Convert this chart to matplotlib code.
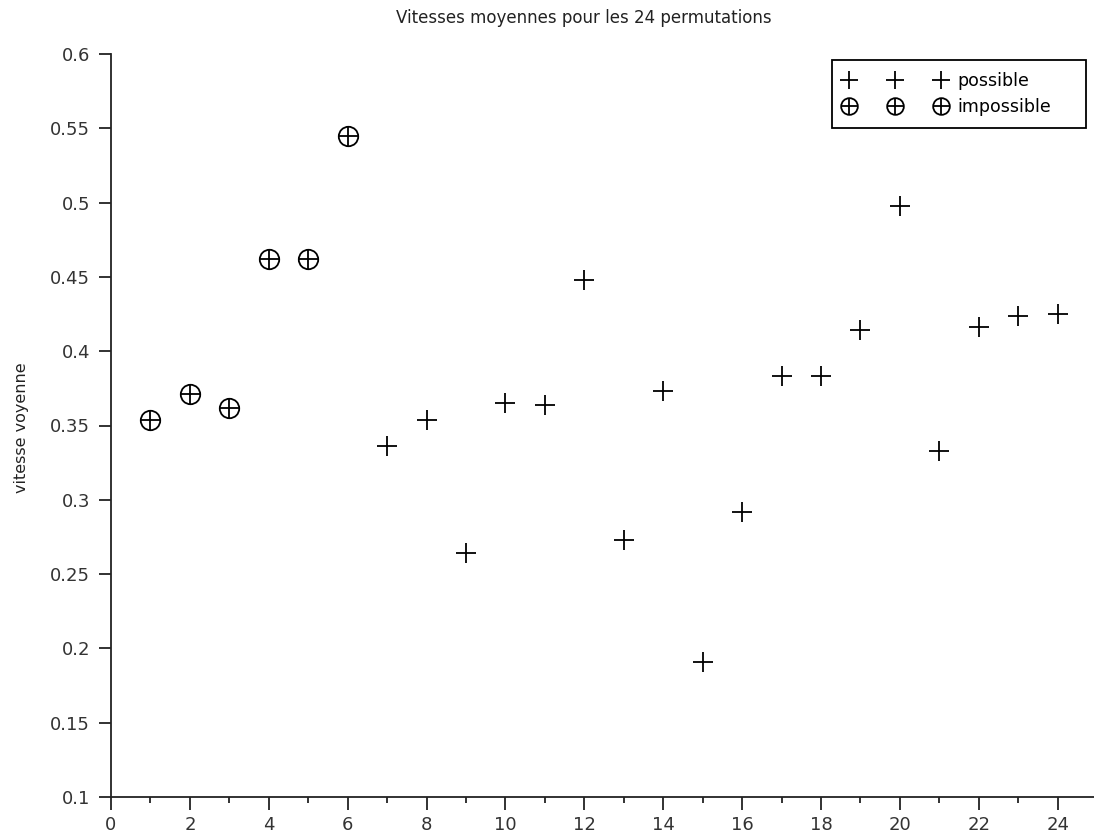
import numpy as np
import matplotlib
matplotlib.use('Agg')
import matplotlib.pyplot as plt
from matplotlib.lines import Line2D
from matplotlib.legend_handler import HandlerTuple
from matplotlib.ticker import MultipleLocator

# --- data ---
perm_impossible = [1, 2, 3, 4, 5, 6]
vit_impossible = [0.354, 0.371, 0.362, 0.462, 0.462, 0.545]

perm_possible = [7, 8, 9, 10, 11, 12, 13, 14, 15, 16, 17, 18, 19, 20, 21, 22, 23, 24]
vit_possible = [0.336, 0.354, 0.264, 0.365, 0.364, 0.448, 0.273, 0.373, 0.191,
                0.292, 0.383, 0.383, 0.414, 0.498, 0.333, 0.416, 0.424, 0.425]

W, H = 1094, 836
fig = plt.figure(figsize=(W / 100, H / 100), dpi=100)
ax = fig.add_axes([111 / W, 1 - 797 / H, 1 - 111 / W, (797 - 54) / H])

# possible: plain crosses
ax.plot(perm_possible, vit_possible, linestyle='none', marker='+',
        markersize=14, markeredgewidth=1.3, color='black', clip_on=False)

# impossible: circled cross
ax.plot(perm_impossible, vit_impossible, linestyle='none', marker='o',
        markersize=14, markeredgewidth=1.3, markerfacecolor='none',
        markeredgecolor='black', clip_on=False)
ax.plot(perm_impossible, vit_impossible, linestyle='none', marker='+',
        markersize=14, markeredgewidth=1.3, color='black', clip_on=False)

ax.set_xlim(0, 24.92)
ax.set_ylim(0.1, 0.6)
ax.xaxis.set_major_locator(MultipleLocator(2))
ax.xaxis.set_minor_locator(MultipleLocator(1))
ax.yaxis.set_major_locator(MultipleLocator(0.05))
ax.yaxis.set_major_formatter(plt.FuncFormatter(lambda v, p: f"{v:.2f}".rstrip('0').rstrip('.')))

for side in ['top', 'right']:
    ax.spines[side].set_visible(False)
for side in ['left', 'bottom']:
    ax.spines[side].set_linewidth(1.3)
    ax.spines[side].set_color('#222222')

ax.tick_params(axis='both', which='major', direction='out', length=9,
               width=1.3, labelsize=13, colors='#222222', labelcolor='#333333')
ax.tick_params(axis='x', which='minor', direction='out', length=4, width=1.3,
               colors='#222222')
ax.tick_params(axis='x', which='major', pad=5)
ax.tick_params(axis='y', which='major', pad=6)

fig.text(584 / W, 1 - 18 / H, "Vitesses moyennes pour les 24 permutations",
         ha='center', va='center', fontsize=12, color='#222222')
fig.text(22 / W, 1 - 428 / H, "vitesse voyenne", rotation=90,
         ha='center', va='center', fontsize=11.5, color='#222222')

h_pos = Line2D([], [], linestyle='none', marker='+', markersize=13,
               markeredgewidth=1.3, color='black')
h_circ = Line2D([], [], linestyle='none', marker='o', markersize=12,
                markeredgewidth=1.3, markerfacecolor='none', markeredgecolor='black')
h_plus = Line2D([], [], linestyle='none', marker='+', markersize=12,
                markeredgewidth=1.3, color='black')

leg = ax.legend([h_pos, (h_circ, h_plus)], ['possible', 'impossible'],
                handler_map={tuple: HandlerTuple(ndivide=1)},
                numpoints=3, loc='upper left', mode='expand',
                bbox_to_anchor=(832 / W, 1 - 136 / H, 254 / W, 76 / H),
                bbox_transform=fig.transFigure,
                fontsize=12.5, frameon=True, fancybox=False, framealpha=1,
                edgecolor='black', handlelength=5.9, handletextpad=0.6,
                borderpad=0.7, labelspacing=0.45, borderaxespad=0)
leg.get_frame().set_linewidth(1.3)

plt.savefig("out.png", dpi=100)
